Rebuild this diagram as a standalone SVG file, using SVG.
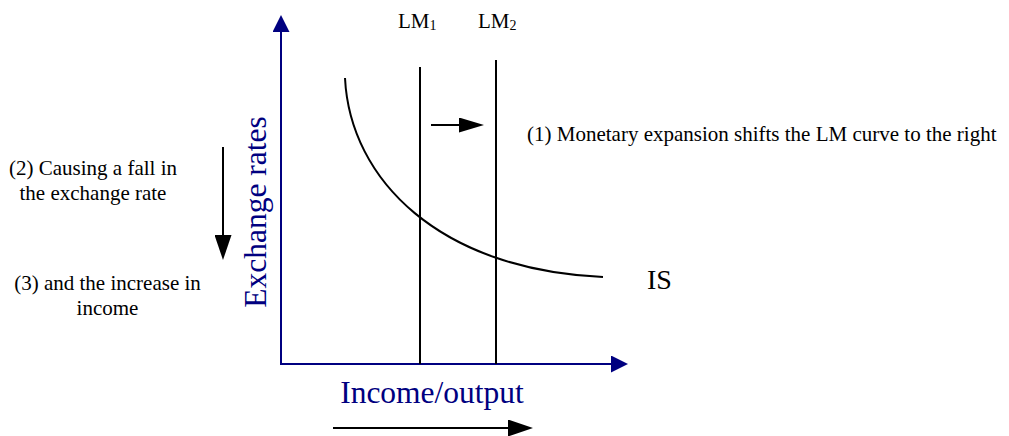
<svg xmlns="http://www.w3.org/2000/svg" width="1009" height="436" viewBox="0 0 1009 436">
<style>
text{font-family:"Liberation Serif","Times New Roman",serif;}
.lbl{font-size:21px;fill:#000;}
.ax{font-size:31.5px;fill:#000080;}
.axis{stroke:#000080;stroke-width:2;fill:none;}
.ln{stroke:#000;stroke-width:2;fill:none;}
</style>
<defs>
<marker id="navyHead" markerUnits="userSpaceOnUse" markerWidth="17" markerHeight="17" viewBox="0 0 17 17" refX="13" refY="8.5" orient="auto">
<path d="M0,0 L17,8.5 L0,17 z" fill="#000080"/>
</marker>
<marker id="blackHead" markerUnits="userSpaceOnUse" markerWidth="25" markerHeight="17" viewBox="0 0 25 17" refX="21" refY="8.5" orient="auto">
<path d="M0,0 L25,8.5 L0,17 z" fill="#000"/>
</marker>
<marker id="smallHead" markerUnits="userSpaceOnUse" markerWidth="25" markerHeight="15" viewBox="0 0 25 15" refX="21" refY="7.5" orient="auto">
<path d="M0,0 L25,7.5 L0,15 z" fill="#000"/>
</marker>
</defs>
<g id="axes">
<line class="axis" x1="281" y1="364" x2="281" y2="19" marker-end="url(#navyHead)"/>
<line class="axis" x1="280" y1="364" x2="624" y2="364" marker-end="url(#navyHead)"/>
<text class="ax" transform="translate(266,212) rotate(-90)" text-anchor="middle">Exchange rates</text>
<text class="ax" x="432" y="403" text-anchor="middle">Income/output</text>
</g>
<g id="lm1">
<line class="ln" x1="420" y1="67" x2="420" y2="364"/>
<text class="lbl" x="398" y="28">LM<tspan font-size="14" dy="2">1</tspan></text>
</g>
<g id="lm2">
<line class="ln" x1="496" y1="60" x2="496" y2="364"/>
<text class="lbl" x="478" y="28">LM<tspan font-size="14" dy="2">2</tspan></text>
</g>
<g id="is">
<path class="ln" d="M345,78 C350,180 440,270 603,277"/>
<text x="647" y="289" font-size="28">IS</text>
</g>
<g id="connectors">
<line class="ln" x1="431" y1="125" x2="480" y2="125" marker-end="url(#smallHead)"/>
<line class="ln" x1="223" y1="147" x2="223" y2="256" marker-end="url(#blackHead)"/>
<line class="ln" x1="333" y1="428" x2="529" y2="428" marker-end="url(#blackHead)"/>
</g>
<g id="note1">
<text class="lbl" x="527" y="141">(1) Monetary expansion shifts the LM curve to the right</text>
</g>
<g id="note2">
<text class="lbl" x="93" y="175" text-anchor="middle">(2) Causing a fall in</text>
<text class="lbl" x="93" y="200" text-anchor="middle">the exchange rate</text>
</g>
<g id="note3">
<text class="lbl" x="107.5" y="290" text-anchor="middle">(3) and the increase in</text>
<text class="lbl" x="107.5" y="315" text-anchor="middle">income</text>
</g>
</svg>
